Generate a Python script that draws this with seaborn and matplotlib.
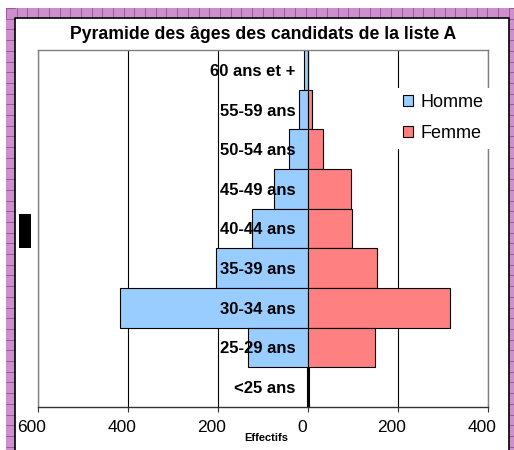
import pandas as pd
import matplotlib.pyplot as plt
import matplotlib.transforms as mtransforms
from matplotlib.patches import Rectangle, Patch
from matplotlib.lines import Line2D
import seaborn as sns

# age groups, top of the pyramid first
ages = ["60 ans et +", "55-59 ans", "50-54 ans", "45-49 ans", "40-44 ans",
        "35-39 ans", "30-34 ans", "25-29 ans", "<25 ans"]
hommes = [8, 19, 42, 76, 124, 204, 418, 133, 3]
femmes = [1, 8, 34, 96, 98, 153, 316, 149, 3]
sexes = ["Homme", "Femme"]
colors = ["#99CCFF", "#FF8080"]
xticks = [-600, -400, -200, 0, 200, 400]

# men on the left side -> negative values
df = pd.DataFrame({"age": ages * 2,
                   "sexe": ["Homme"] * len(ages) + ["Femme"] * len(ages),
                   "effectif": [-h for h in hommes] + femmes})

sns.set_style("white")
plt.rcParams["font.family"] = ["Liberation Sans", "DejaVu Sans"]
plt.rcParams["text.color"] = "black"
plt.rcParams["axes.labelcolor"] = "black"
plt.rcParams["xtick.color"] = "black"
plt.rcParams["ytick.color"] = "black"

W, H = 514, 450
fig = plt.figure(figsize=(W / 100, H / 100), dpi=100, facecolor="white")


def fx(px):
    return px / W


def fy(py):
    return 1 - py / H


# purple checkered chart border (Excel style)
purple = "#cc90cc"
dark = "#9a4a9a"
strips = [(6, 8, 514, 18), (6, 8, 15, 450), (509, 8, 514, 450)]
for x0, y0, x1, y1 in strips:
    fig.patches.append(Rectangle((fx(x0), fy(y1)), fx(x1) - fx(x0), fy(y0) - fy(y1),
                                 transform=fig.transFigure, facecolor=purple,
                                 edgecolor="none", zorder=0))
step = 10.7
x = 6.0
while x < 514:
    fig.lines.append(Line2D([fx(x), fx(x)], [fy(8), fy(18)], transform=fig.transFigure,
                            color=dark, lw=0.6))
    x += step
y = 8.0
while y < 450:
    for a, b in [(6, 15), (509, 514)]:
        fig.lines.append(Line2D([fx(a), fx(b)], [fy(y), fy(y)], transform=fig.transFigure,
                                color=dark, lw=0.6))
    y += step
fig.lines.append(Line2D([fx(15), fx(15), fx(508.5), fx(508.5)], [fy(450), fy(18), fy(18), fy(450)],
                        transform=fig.transFigure, color="black", lw=1.2))
# the little black selection handle on the left
fig.patches.append(Rectangle((fx(19), fy(248)), fx(31) - fx(19), fy(214) - fy(248),
                             transform=fig.transFigure, facecolor="black", edgecolor="none"))

ax = fig.add_axes([fx(38), fy(407), 450 / W, 357 / H])
sns.barplot(data=df, x="effectif", y="age", hue="sexe", order=ages, hue_order=sexes,
            palette=colors, orient="h", dodge=False, width=1, saturation=1,
            errorbar=None, edgecolor="black", linewidth=0.8, legend=False, ax=ax)

ax.set_xlim(-600, 400)
ax.set_ylim(len(ages) - 0.5, -0.5)
ax.set_xticks(xticks)
ax.set_xticklabels([str(abs(t)) for t in xticks], fontsize=12.5)
ax.tick_params(axis="x", bottom=True, length=3.6, width=0.8, color="#333333", pad=6)

# category labels drawn next to the zero axis
ax.tick_params(axis="y", length=0, pad=-185.4, labelsize=12)
for lab in ax.get_yticklabels():
    lab.set_fontweight("bold")
ax.set_ylabel("")

ax.xaxis.grid(True, color="black", lw=0.8)
ax.yaxis.grid(False)
ax.set_axisbelow(True)
ax.yaxis.set_zorder(5)  # age labels over the bars
for s in ["top", "left", "right"]:
    ax.spines[s].set_color("#808080")
    ax.spines[s].set_linewidth(1)
ax.spines["bottom"].set_color("#333333")
ax.spines["bottom"].set_linewidth(1)

# Excel puts the value labels a bit left of their ticks
offset = mtransforms.ScaledTranslation(-6 / 100, 0, fig.dpi_scale_trans)
for lab in ax.get_xticklabels():
    lab.set_transform(lab.get_transform() + offset)

ax.set_title("Pyramide des âges des candidats de la liste A", fontsize=12.7,
             fontweight="bold", pad=8)
ax.set_xlabel("Effectifs", fontsize=8, fontweight="bold")
ax.xaxis.set_label_coords(0.5067, -0.087)
ax.xaxis.label.set_va("center")

handles = [Patch(facecolor=c, edgecolor="black", linewidth=0.8, label=s)
           for s, c in zip(sexes, colors)]
ax.legend(handles=handles, loc="upper left", bbox_to_anchor=(fx(397), fy(88)),
          bbox_transform=fig.transFigure, frameon=True, fancybox=False,
          edgecolor="none", facecolor="white", framealpha=1, fontsize=13,
          handlelength=0.55, handleheight=0.55, handletextpad=0.4,
          labelspacing=0.77, borderpad=0.35, borderaxespad=0)

fig.savefig("out.png", dpi=100, facecolor="white")
